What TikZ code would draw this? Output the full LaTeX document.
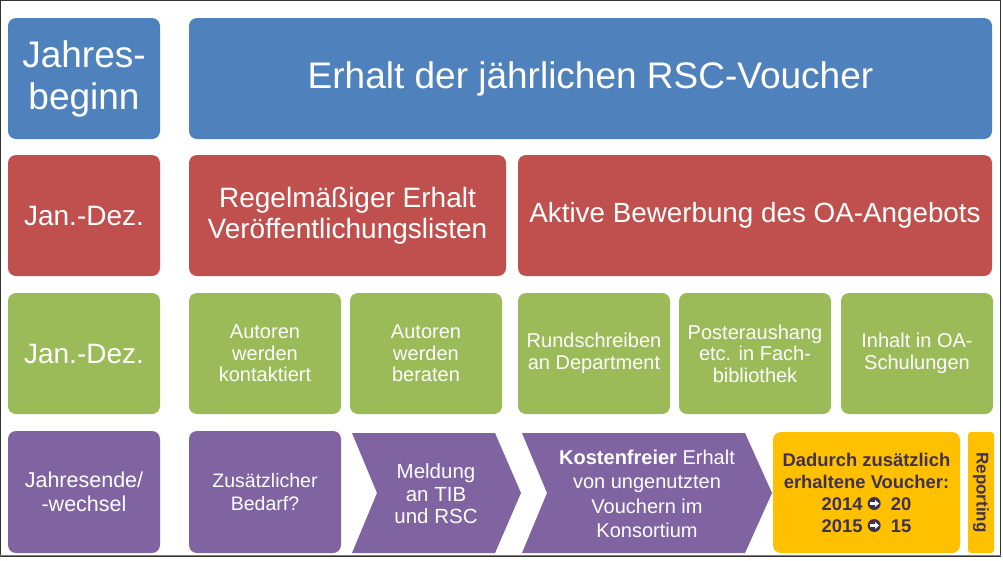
\documentclass[tikz,border=0pt]{standalone}
\usepackage{fontspec}
\setmainfont{Liberation Sans}
\definecolor{cblue}{HTML}{4F81BD}
\definecolor{cred}{HTML}{C0504D}
\definecolor{cgreen}{HTML}{9BBB59}
\definecolor{cpurple}{HTML}{8064A2}
\definecolor{cyellow}{HTML}{FFC000}
\definecolor{cdark}{HTML}{3F3151}
\usetikzlibrary{arrows.meta}
\newcommand{\circarrow}{\tikz[x=1pt,y=1pt,baseline=-6.6pt]{\fill[cdark] (0,0) circle (6.5pt);
  \draw[white, line width=2.2pt, -{Triangle[length=4pt,width=6.5pt]}] (-4.6,0) -- (4.9,0);}}
\begin{document}
\begin{tikzpicture}[x=1pt,y=-1pt,
  box/.style={rounded corners=8pt, inner sep=0pt, align=center, text=white, minimum height=121pt},
  narrow/.style={box, minimum width=152pt},
  bluebox/.style={box, fill=cblue},
  redbox/.style={box, fill=cred},
  greenbox/.style={narrow, fill=cgreen, font=\fontsize{20}{21.5}\selectfont},
  purplebox/.style={narrow, fill=cpurple, font=\fontsize{19.5}{22.5}\selectfont},
  chev/.style={fill=cpurple},
  chevtext/.style={align=center, text=white, inner sep=0pt},
  rowlabel/.style={narrow, font=\fontsize{28}{32}\selectfont}
]
\useasboundingbox (0,0) rectangle (1003,560);
\fill[white] (0,0) rectangle (1003,560);
\draw[black!80, line width=1.2pt] (0.6,0.6) rectangle (1000.4,556);
\draw[gray, line width=1.5pt] (0,555.5) -- (1001,555.5);

% Row 1
\node[bluebox, narrow, font=\fontsize{37}{42}\selectfont] (jb) at (84,78.5) {Jahres-\\beginn};
\node[bluebox, minimum width=803pt, font=\fontsize{37}{42}\selectfont] (erhalt) at (590.5,78.5) {Erhalt der jährlichen RSC-Voucher};

% Row 2
\node[redbox, rowlabel] (jd1) at (84,215.5) {Jan.-Dez.};
\node[redbox, minimum width=317pt, font=\fontsize{28}{31}\selectfont] (regel) at (347.5,215.5) {Regelmäßiger Erhalt\\Veröffentlichungslisten};
\node[redbox, minimum width=474pt, font=\fontsize{27.8}{31}\selectfont] (aktiv) at (755,215.5) {Aktive Bewerbung des OA-Angebots};

% Row 3
\node[greenbox, rowlabel] (jd2) at (84,353.5) {Jan.-Dez.};
\node[greenbox] (g1) at (265,353.5) {Autoren\\werden\\kontaktiert};
\node[greenbox] (g2) at (426,353.5) {Autoren\\werden\\beraten};
\node[greenbox] (g3) at (594,353.5) {Rundschreiben\\an Department};
\node[greenbox] (g4) at (755,353.5) {Posteraushang\\etc. in Fach-\\bibliothek};
\node[greenbox] (g5) at (917,353.5) {Inhalt in OA-\\Schulungen};

% Row 4
\node[purplebox, minimum height=122pt, font=\fontsize{21.5}{24}\selectfont] (je) at (84,492) {Jahresende/\\-wechsel};
\node[purplebox, minimum height=122pt] (zb) at (265,492) {Zusätzlicher\\Bedarf?};
\path[chev] (352,433) -- (495,433) -- (521,493) -- (495,553) -- (352,553) -- (377,493) -- cycle;
\node[chevtext, font=\fontsize{20.5}{22.5}\selectfont] (meld) at (436,494) {Meldung\\an TIB\\und RSC};
\path[chev] (522,433) -- (745,433) -- (772,493) -- (745,553) -- (522,553) -- (547,493) -- cycle;
\node[chevtext, font=\fontsize{20}{24.5}\selectfont] (kost) at (647,494) {\textbf{Kostenfreier} Erhalt\\von ungenutzten\\Vouchern im\\Konsortium};
\node[box, fill=cyellow, text=cdark, minimum width=187pt, font=\bfseries\fontsize{18.4}{22}\selectfont] (dad) at (866.5,492.5)
  {Dadurch zusätzlich\\erhaltene Voucher:\\2014 \circarrow\ \ 20\\2015 \circarrow\ \ 15};
\node[rounded corners=3pt, fill=cyellow, minimum width=26pt, minimum height=121pt, inner sep=0pt] (repbox) at (981,492.5) {};
\node[text=cdark, rotate=-90, font=\bfseries\fontsize{17}{20}\selectfont, inner sep=0pt] (rep) at (repbox.center) {Reporting};
\end{tikzpicture}
\end{document}
